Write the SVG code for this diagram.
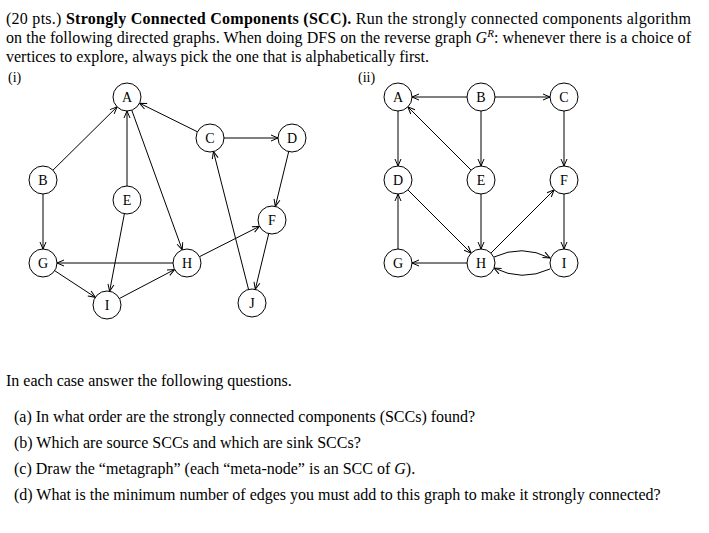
<svg xmlns="http://www.w3.org/2000/svg" width="709" height="533" viewBox="0 0 709 533">
<style>
text{font-family:"Liberation Serif","Times New Roman",serif;font-size:16px;fill:#000}
.n circle{fill:#fff;stroke:#000;stroke-width:1}
.n text{text-anchor:middle;font-size:14px}
#edges line,#edges path{stroke:#000;stroke-width:1;fill:none;marker-end:url(#a)}
#edges path{marker-end:url(#b)}
</style>
<defs>
<marker id="a" markerUnits="userSpaceOnUse" markerWidth="40" markerHeight="10" refX="21" refY="3" orient="auto" overflow="visible"><path d="M0,0 L7,3 L0,6" fill="none" stroke="#000" stroke-width="1"/></marker>
<marker id="b" markerUnits="userSpaceOnUse" markerWidth="10" markerHeight="10" refX="7" refY="3" orient="auto" overflow="visible"><path d="M0,0 L7,3 L0,6" fill="none" stroke="#000" stroke-width="1"/></marker>
</defs>
<rect width="709" height="533" fill="#fff"/>
<text x="6" y="24" textLength="685" lengthAdjust="spacing">(20 pts.) <tspan font-weight="bold">Strongly Connected Components (SCC).</tspan> Run the strongly connected components algorithm</text>
<text x="6" y="43" textLength="685" lengthAdjust="spacing">on the following directed graphs. When doing DFS on the reverse graph <tspan font-style="italic">G</tspan><tspan font-style="italic" font-size="11" dy="-6">R</tspan><tspan dy="6">: whenever there is a choice of</tspan></text>
<text x="6" y="62">vertices to explore, always pick the one that is alphabetically first.</text>
<text x="8" y="82" style="font-size:14px">(i)</text>
<text x="358" y="82" style="font-size:14px">(ii)</text>
<g id="edges">
<line x1="43" y1="180" x2="127" y2="97"/>
<line x1="210" y1="138" x2="127" y2="97"/>
<line x1="210" y1="138" x2="292" y2="138"/>
<line x1="127" y1="97" x2="187" y2="263"/>
<line x1="127" y1="200" x2="127" y2="97"/>
<line x1="43" y1="180" x2="43" y2="263"/>
<line x1="127" y1="200" x2="107" y2="305"/>
<line x1="292" y1="138" x2="272" y2="220"/>
<line x1="272" y1="220" x2="252" y2="303"/>
<line x1="252" y1="303" x2="210" y2="138"/>
<line x1="187" y1="263" x2="272" y2="220"/>
<line x1="187" y1="263" x2="43" y2="263"/>
<line x1="43" y1="263" x2="107" y2="305"/>
<line x1="107" y1="305" x2="187" y2="263"/>
<line x1="481" y1="97" x2="398" y2="97"/>
<line x1="481" y1="97" x2="564" y2="97"/>
<line x1="398" y1="97" x2="398" y2="180"/>
<line x1="481" y1="180" x2="398" y2="97"/>
<line x1="481" y1="97" x2="481" y2="180"/>
<line x1="564" y1="97" x2="564" y2="180"/>
<line x1="398" y1="180" x2="481" y2="263"/>
<line x1="481" y1="180" x2="481" y2="263"/>
<line x1="481" y1="263" x2="564" y2="180"/>
<line x1="564" y1="180" x2="564" y2="263"/>
<line x1="398" y1="263" x2="398" y2="180"/>
<line x1="481" y1="263" x2="398" y2="263"/>
<path d="M494,257 Q522,244 550,258"/>
<path d="M550,269 Q522,282 494,268"/>
</g>
<g id="nA1" class="n"><circle cx="127" cy="97" r="14"/><text x="127" y="102">A</text></g>
<g id="nB1" class="n"><circle cx="43" cy="180" r="14"/><text x="43" y="185">B</text></g>
<g id="nC1" class="n"><circle cx="210" cy="138" r="14"/><text x="210" y="143">C</text></g>
<g id="nD1" class="n"><circle cx="292" cy="138" r="14"/><text x="292" y="143">D</text></g>
<g id="nE1" class="n"><circle cx="127" cy="200" r="14"/><text x="127" y="205">E</text></g>
<g id="nF1" class="n"><circle cx="272" cy="220" r="14"/><text x="272" y="225">F</text></g>
<g id="nG1" class="n"><circle cx="43" cy="263" r="14"/><text x="43" y="268">G</text></g>
<g id="nH1" class="n"><circle cx="187" cy="263" r="14"/><text x="187" y="268">H</text></g>
<g id="nI1" class="n"><circle cx="107" cy="305" r="14"/><text x="107" y="310">I</text></g>
<g id="nJ1" class="n"><circle cx="252" cy="303" r="14"/><text x="252" y="308">J</text></g>
<g id="nA2" class="n"><circle cx="398" cy="97" r="14"/><text x="398" y="102">A</text></g>
<g id="nB2" class="n"><circle cx="481" cy="97" r="14"/><text x="481" y="102">B</text></g>
<g id="nC2" class="n"><circle cx="564" cy="97" r="14"/><text x="564" y="102">C</text></g>
<g id="nD2" class="n"><circle cx="398" cy="180" r="14"/><text x="398" y="185">D</text></g>
<g id="nE2" class="n"><circle cx="481" cy="180" r="14"/><text x="481" y="185">E</text></g>
<g id="nF2" class="n"><circle cx="564" cy="180" r="14"/><text x="564" y="185">F</text></g>
<g id="nG2" class="n"><circle cx="398" cy="263" r="14"/><text x="398" y="268">G</text></g>
<g id="nH2" class="n"><circle cx="481" cy="263" r="14"/><text x="481" y="268">H</text></g>
<g id="nI2" class="n"><circle cx="564" cy="263" r="14"/><text x="564" y="268">I</text></g>
<text x="6" y="386">In each case answer the following questions.</text>
<text x="14" y="422">(a) In what order are the strongly connected components (SCCs) found?</text>
<text x="14" y="448">(b) Which are source SCCs and which are sink SCCs?</text>
<text x="14" y="474">(c) Draw the “metagraph” (each “meta-node” is an SCC of <tspan font-style="italic">G</tspan>).</text>
<text x="14" y="500">(d) What is the minimum number of edges you must add to this graph to make it strongly connected?</text>
</svg>
